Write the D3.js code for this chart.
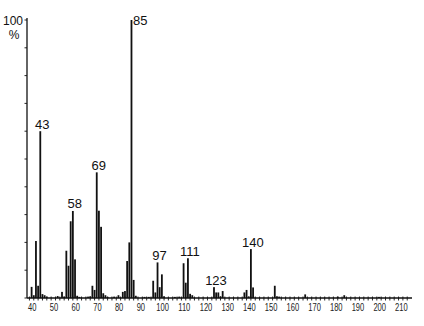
<!DOCTYPE html>
<html><head><meta charset="utf-8">
<script src="https://cdn.jsdelivr.net/npm/d3@7"></script>
<style>body{margin:0;background:#fff}svg{display:block}</style>
</head><body>
<svg id="c" width="424" height="326"></svg>
<script>
const masses = [39,40,41,42,43,44,45,46,51,53,54,55,56,57,58,59,60,61,65,66,67,68,69,70,71,72,73,74,77,79,81,82,83,84,85,86,87,91,93,95,96,97,98,99,100,105,107,109,110,111,112,113,123,124,125,126,127,137,138,139,140,141,151,152,153,165,180,183,199];
const intensities = [4,1,20.5,4.4,60,1.4,1,0.5,0.7,2.2,0.5,17,11.6,27.6,31.3,13.9,0.8,0.4,0.5,0.6,4.4,2.9,45.2,31.4,25.6,1.7,1,0.4,0.5,1,2.2,2.5,13.3,20,100,6.5,0.8,0.4,0.4,6.2,2,12.8,3.9,8.5,0.6,0.4,0.5,12.5,5.5,14.3,1.5,1,3.9,2,2,0.6,2.5,2,2.9,0.6,17.6,3.8,4.4,0.6,0.5,1.3,0.5,1,0.4];
const labeledPeaks = [43,58,69,85,97,111,123,140];
const xTickLabels = [40,50,60,70,80,90,100,110,120,130,140,150,160,170,180,190,200,210];
const yTicks = [0,10,20,30,40,50,60,70,80,90,100];

const data = masses.map((m,i)=>({m, v:intensities[i]}));
const svg = d3.select("#c");
const x = d3.scaleLinear().domain([36.88, 214.2]).range([27, 412]);
const y = d3.scaleLinear().domain([0,100]).range([298, 20]);
const col = "#111";
const font = "Liberation Sans, Arial, sans-serif";

// bars
svg.append("g").selectAll("rect").data(data).join("rect")
  .attr("x", d=>x(d.m)-0.9).attr("width",1.8)
  .attr("y", d=>y(d.v)).attr("height", d=>y(0)-y(d.v))
  .attr("fill", col);

// x axis
const xa = svg.append("g").attr("transform",`translate(0,${y(0)})`);
xa.append("line").attr("x1",27).attr("x2",412).attr("y1",0).attr("y2",0).attr("stroke",col).attr("stroke-width",1.3);
const minor = d3.range(38, 214, 2);
xa.selectAll("line.t").data(minor).join("line").attr("class","t")
  .attr("x1",d=>x(d)).attr("x2",d=>x(d)).attr("y1",-1.5).attr("y2",2.5)
  .attr("stroke",col).attr("stroke-width",0.9);
xa.selectAll("text").data(xTickLabels).join("text")
  .attr("transform",d=>`translate(${x(d)-1.5},12.5) scale(0.72,1)`)
  .attr("text-anchor","middle")
  .attr("font-family",font).attr("font-size",10.5)
  .attr("fill","#222").text(d=>d);

// y axis
const ya = svg.append("g");
ya.append("line").attr("x1",27).attr("x2",27).attr("y1",18).attr("y2",y(0)).attr("stroke",col).attr("stroke-width",1.3);
ya.selectAll("line.t").data(yTicks).join("line").attr("class","t")
  .attr("x1",24.5).attr("x2",27).attr("y1",d=>y(d)).attr("y2",d=>y(d))
  .attr("stroke",col).attr("stroke-width",0.9);
ya.append("text").attr("x",23).attr("y",25).attr("text-anchor","end")
  .attr("font-family",font).attr("font-size",12).attr("fill","#111").text("100");
ya.append("text").attr("x",14).attr("y",39).attr("text-anchor","middle")
  .attr("font-family",font).attr("font-size",12).attr("fill","#111").text("%");

// peak labels
const lab = data.filter(d=>labeledPeaks.includes(d.m));
svg.append("g").selectAll("text").data(lab).join("text")
  .attr("x", d=> d.v>=99 ? x(d.m)+1.5 : x(d.m)+2)
  .attr("y", d=> d.v>=99 ? 25 : y(d.v)-2.5)
  .attr("text-anchor", d=> d.v>=99 ? "start" : "middle")
  .attr("font-family",font).attr("font-size",13)
  .attr("fill","#111").text(d=>d.m);
</script>
</body></html>
